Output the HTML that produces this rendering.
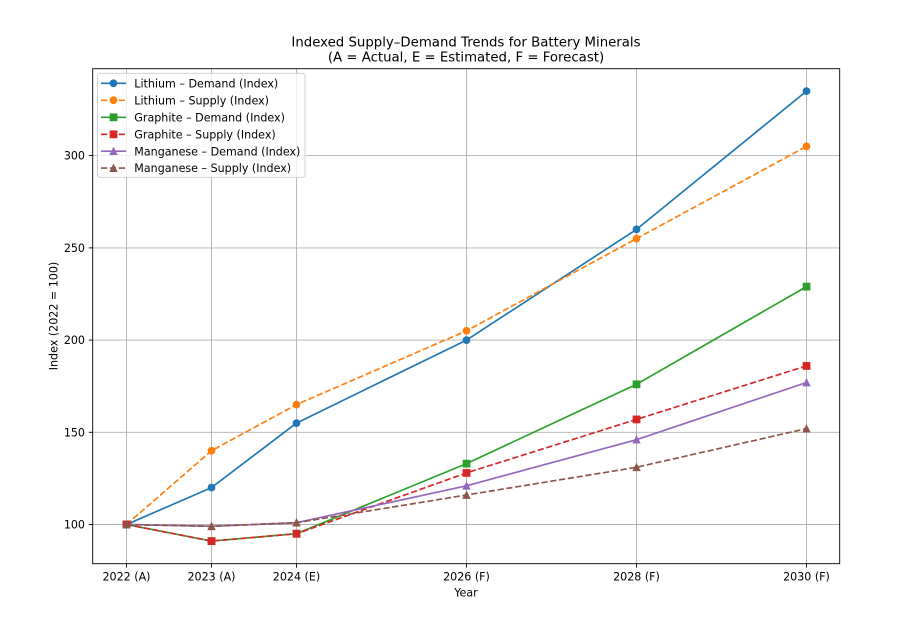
<!DOCTYPE html>
<html>
<head>
<meta charset="utf-8">
<style>
  html, body { margin: 0; padding: 0; background: #ffffff; }
  svg { display: block; }
  text { font-family: "DejaVu Sans", "Liberation Sans", sans-serif; fill: #000; }
</style>
</head>
<body>
<svg width="903" height="619" viewBox="0 0 903 619" xmlns="http://www.w3.org/2000/svg">
  <rect x="0" y="0" width="903" height="619" fill="#ffffff"/>

  <!-- Grid -->
  <g stroke="#b0b0b0" stroke-width="0.9" fill="none">
    <line x1="126.5" y1="68.7" x2="126.5" y2="563.7"/>
    <line x1="211.5" y1="68.7" x2="211.5" y2="563.7"/>
    <line x1="296.5" y1="68.7" x2="296.5" y2="563.7"/>
    <line x1="466.5" y1="68.7" x2="466.5" y2="563.7"/>
    <line x1="636.5" y1="68.7" x2="636.5" y2="563.7"/>
    <line x1="806.5" y1="68.7" x2="806.5" y2="563.7"/>
    <line x1="92.7" y1="524.5" x2="839.7" y2="524.5"/>
    <line x1="92.7" y1="432.3" x2="839.7" y2="432.3"/>
    <line x1="92.7" y1="340.1" x2="839.7" y2="340.1"/>
    <line x1="92.7" y1="247.9" x2="839.7" y2="247.9"/>
    <line x1="92.7" y1="155.6" x2="839.7" y2="155.6"/>
  </g>

  <!-- Series -->
  <!-- Lithium Demand -->
  <polyline points="126.5,524.5 211.5,487.6 296.5,423.1 466.5,340.1 636.5,229.4 806.5,91.1" fill="none" stroke="#1f77b4" stroke-width="1.67" stroke-linejoin="round"/>
  <g fill="#1f77b4" stroke="#1f77b4" stroke-width="1.1">
    <circle cx="126.5" cy="524.5" r="3.33"/><circle cx="211.5" cy="487.6" r="3.33"/><circle cx="296.5" cy="423.1" r="3.33"/>
    <circle cx="466.5" cy="340.1" r="3.33"/><circle cx="636.5" cy="229.4" r="3.33"/><circle cx="806.5" cy="91.1" r="3.33"/>
  </g>
  <!-- Lithium Supply -->
  <polyline points="126.5,524.5 211.5,450.7 296.5,404.6 466.5,330.8 636.5,238.6 806.5,146.4" fill="none" stroke="#ff7f0e" stroke-width="1.67" stroke-dasharray="6.2,2.7"/>
  <g fill="#ff7f0e" stroke="#ff7f0e" stroke-width="1.1">
    <circle cx="126.5" cy="524.5" r="3.33"/><circle cx="211.5" cy="450.7" r="3.33"/><circle cx="296.5" cy="404.6" r="3.33"/>
    <circle cx="466.5" cy="330.8" r="3.33"/><circle cx="636.5" cy="238.6" r="3.33"/><circle cx="806.5" cy="146.4" r="3.33"/>
  </g>
  <!-- Graphite Demand -->
  <polyline points="126.5,524.5 211.5,541.1 296.5,533.7 466.5,463.6 636.5,384.3 806.5,286.6" fill="none" stroke="#2ca02c" stroke-width="1.67" stroke-linejoin="round"/>
  <g fill="#2ca02c" stroke="#2ca02c" stroke-width="1.1">
    <rect x="123.2" y="521.2" width="6.67" height="6.67"/><rect x="208.2" y="537.8" width="6.67" height="6.67"/><rect x="293.2" y="530.4" width="6.67" height="6.67"/>
    <rect x="463.2" y="460.3" width="6.67" height="6.67"/><rect x="633.2" y="381.0" width="6.67" height="6.67"/><rect x="803.2" y="283.3" width="6.67" height="6.67"/>
  </g>
  <!-- Graphite Supply -->
  <polyline points="126.5,524.5 211.5,541.1 296.5,533.7 466.5,472.9 636.5,419.4 806.5,365.9" fill="none" stroke="#d62728" stroke-width="1.67" stroke-dasharray="6.2,2.7"/>
  <g fill="#d62728" stroke="#d62728" stroke-width="1.1">
    <rect x="123.2" y="521.2" width="6.67" height="6.67"/><rect x="208.2" y="537.8" width="6.67" height="6.67"/><rect x="293.2" y="530.4" width="6.67" height="6.67"/>
    <rect x="463.2" y="469.6" width="6.67" height="6.67"/><rect x="633.2" y="416.1" width="6.67" height="6.67"/><rect x="803.2" y="362.6" width="6.67" height="6.67"/>
  </g>
  <!-- Manganese Demand -->
  <polyline points="126.5,524.5 211.5,526.3 296.5,522.7 466.5,485.8 636.5,439.7 806.5,382.5" fill="none" stroke="#9467bd" stroke-width="1.67" stroke-linejoin="round"/>
  <g fill="#9467bd" stroke="#9467bd" stroke-width="1.1">
    <polygon points="126.5,521.2 123.2,527.8 129.8,527.8"/>
    <polygon points="211.5,523.0 208.2,529.6 214.8,529.6"/>
    <polygon points="296.5,519.4 293.2,526.0 299.8,526.0"/>
    <polygon points="466.5,482.5 463.2,489.1 469.8,489.1"/>
    <polygon points="636.5,436.4 633.2,443.0 639.8,443.0"/>
    <polygon points="806.5,379.2 803.2,385.8 809.8,385.8"/>
  </g>
  <!-- Manganese Supply -->
  <polyline points="126.5,524.5 211.5,526.3 296.5,522.7 466.5,495.0 636.5,467.3 806.5,428.6" fill="none" stroke="#8c564b" stroke-width="1.67" stroke-dasharray="6.2,2.7"/>
  <g fill="#8c564b" stroke="#8c564b" stroke-width="1.1">
    <polygon points="126.5,521.2 123.2,527.8 129.8,527.8"/>
    <polygon points="211.5,523.0 208.2,529.6 214.8,529.6"/>
    <polygon points="296.5,519.4 293.2,526.0 299.8,526.0"/>
    <polygon points="466.5,491.7 463.2,498.3 469.8,498.3"/>
    <polygon points="636.5,464.0 633.2,470.6 639.8,470.6"/>
    <polygon points="806.5,425.3 803.2,431.9 809.8,431.9"/>
  </g>

  <!-- Axes frame -->
  <rect x="92.7" y="68.7" width="747" height="495" fill="none" stroke="#000" stroke-width="0.9"/>

  <!-- Ticks -->
  <g stroke="#000" stroke-width="0.9">
    <line x1="126.5" y1="563.7" x2="126.5" y2="567.6"/>
    <line x1="211.5" y1="563.7" x2="211.5" y2="567.6"/>
    <line x1="296.5" y1="563.7" x2="296.5" y2="567.6"/>
    <line x1="466.5" y1="563.7" x2="466.5" y2="567.6"/>
    <line x1="636.5" y1="563.7" x2="636.5" y2="567.6"/>
    <line x1="806.5" y1="563.7" x2="806.5" y2="567.6"/>
    <line x1="88.8" y1="524.5" x2="92.7" y2="524.5"/>
    <line x1="88.8" y1="432.3" x2="92.7" y2="432.3"/>
    <line x1="88.8" y1="340.1" x2="92.7" y2="340.1"/>
    <line x1="88.8" y1="247.9" x2="92.7" y2="247.9"/>
    <line x1="88.8" y1="155.6" x2="92.7" y2="155.6"/>
  </g>

  <!-- Tick labels -->
  <g font-size="11.1" text-anchor="middle">
    <text x="126.5" y="580.5">2022 (A)</text>
    <text x="211.5" y="580.5">2023 (A)</text>
    <text x="296.5" y="580.5">2024 (E)</text>
    <text x="466.5" y="580.5">2026 (F)</text>
    <text x="636.5" y="580.5">2028 (F)</text>
    <text x="806.5" y="580.5">2030 (F)</text>
  </g>
  <g font-size="11.1" text-anchor="end">
    <text x="85" y="528.5">100</text>
    <text x="85" y="436.3">150</text>
    <text x="85" y="344.1">200</text>
    <text x="85" y="251.9">250</text>
    <text x="85" y="159.6">300</text>
  </g>

  <!-- Axis labels -->
  <text x="466" y="596.5" font-size="11.1" text-anchor="middle">Year</text>
  <text x="57.3" y="316" font-size="11.1" text-anchor="middle" transform="rotate(-90 57.3 316)">Index (2022 = 100)</text>

  <!-- Title -->
  <text x="466" y="46.7" font-size="13.3" text-anchor="middle">Indexed Supply–Demand Trends for Battery Minerals</text>
  <text x="466" y="61.3" font-size="13.3" text-anchor="middle">(A = Actual, E = Estimated, F = Forecast)</text>

  <!-- Legend -->
  <rect x="97.5" y="73.3" width="207.5" height="104" rx="2.5" ry="2.5" fill="#ffffff" fill-opacity="0.8" stroke="#cccccc" stroke-width="0.9"/>
  <g stroke-width="1.67" fill="none">
    <line x1="101" y1="83.3" x2="126" y2="83.3" stroke="#1f77b4"/>
    <line x1="101" y1="100.3" x2="126" y2="100.3" stroke="#ff7f0e" stroke-dasharray="6.2,2.7"/>
    <line x1="101" y1="117.3" x2="126" y2="117.3" stroke="#2ca02c"/>
    <line x1="101" y1="134.3" x2="126" y2="134.3" stroke="#d62728" stroke-dasharray="6.2,2.7"/>
    <line x1="101" y1="151.2" x2="126" y2="151.2" stroke="#9467bd"/>
    <line x1="101" y1="168.1" x2="126" y2="168.1" stroke="#8c564b" stroke-dasharray="6.2,2.7"/>
  </g>
  <g stroke-width="1.1">
    <circle cx="113.5" cy="83.3" r="3.33" fill="#1f77b4" stroke="#1f77b4"/>
    <circle cx="113.5" cy="100.3" r="3.33" fill="#ff7f0e" stroke="#ff7f0e"/>
    <rect x="110.2" y="114" width="6.67" height="6.67" fill="#2ca02c" stroke="#2ca02c"/>
    <rect x="110.2" y="131" width="6.67" height="6.67" fill="#d62728" stroke="#d62728"/>
    <polygon points="113.5,147.9 110.2,154.5 116.8,154.5" fill="#9467bd" stroke="#9467bd"/>
    <polygon points="113.5,164.8 110.2,171.4 116.8,171.4" fill="#8c564b" stroke="#8c564b"/>
  </g>
  <g font-size="11.1">
    <text x="134.3" y="87.4">Lithium – Demand (Index)</text>
    <text x="134.3" y="104.4">Lithium – Supply (Index)</text>
    <text x="134.3" y="121.4">Graphite – Demand (Index)</text>
    <text x="134.3" y="138.4">Graphite – Supply (Index)</text>
    <text x="134.3" y="155.3">Manganese – Demand (Index)</text>
    <text x="134.3" y="172.2">Manganese – Supply (Index)</text>
  </g>
</svg>
</body>
</html>
